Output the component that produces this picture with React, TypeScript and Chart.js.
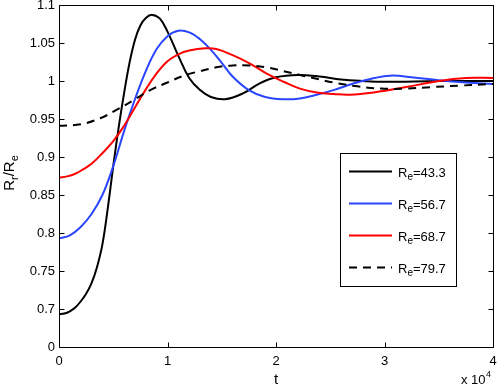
import React, { useEffect, useRef } from "react";
import { Chart, registerables } from "chart.js";

Chart.register(...registerables);

const FONT = '"Liberation Sans", Arial, Helvetica, sans-serif';

// x in units of 10^4
const xTickValues = [0, 1, 2, 3, 4];
const xTickLabels = ["0", "1", "2", "3", "4"];
const yTickValues = [0.65, 0.7, 0.75, 0.8, 0.85, 0.9, 0.95, 1, 1.05, 1.1];
const yTickLabels = ["0", "0.7", "0.75", "0.8", "0.85", "0.9", "0.95", "1", "1.05", "1.1"];

const seriesNames = ["43.3", "56.7", "68.7", "79.7"];
const seriesColors = ["#000000", "#2a45ff", "#ff0000", "#000000"];
const seriesDashed = [false, false, false, true];

const tBlack = [0, 0.05, 0.1, 0.15, 0.2, 0.25, 0.3, 0.35, 0.4, 0.45, 0.5, 0.55, 0.6, 0.65, 0.7, 0.75, 0.8, 0.86, 0.93, 1.0, 1.1, 1.2, 1.3, 1.4, 1.53, 1.7, 1.85, 2.0, 2.2, 2.4, 2.6, 2.8, 3.0, 3.5, 4.0];
const vBlack = [0.693, 0.694, 0.697, 0.702, 0.71, 0.72, 0.734, 0.755, 0.785, 0.833, 0.888, 0.939, 0.984, 1.024, 1.054, 1.073, 1.083, 1.087, 1.082, 1.065, 1.033, 1.004, 0.988, 0.979, 0.976, 0.984, 0.997, 1.005, 1.008, 1.006, 1.002, 1.0, 0.999, 1.0, 1.0];

const tBlue = [0, 0.1, 0.2, 0.3, 0.4, 0.5, 0.6, 0.7, 0.8, 0.9, 1.0, 1.1, 1.2, 1.3, 1.4, 1.5, 1.6, 1.75, 1.9, 2.07, 2.22, 2.375, 2.53, 2.7, 2.85, 3.05, 3.25, 3.5, 3.75, 4.0];
const vBlue = [0.793, 0.797, 0.808, 0.825, 0.85, 0.888, 0.934, 0.976, 1.013, 1.042, 1.059, 1.066, 1.064, 1.055, 1.041, 1.024, 1.006, 0.988, 0.979, 0.976, 0.977, 0.982, 0.988, 0.996, 1.002, 1.007, 1.005, 1.001, 0.998, 0.996];

const tRed = [0, 0.075, 0.15, 0.225, 0.3, 0.4, 0.5, 0.6, 0.7, 0.8, 0.9, 1.0, 1.1, 1.2, 1.35, 1.45, 1.6, 1.76, 1.91, 2.07, 2.22, 2.375, 2.53, 2.68, 2.9, 3.2, 3.5, 3.75, 4.0];
const vRed = [0.873, 0.8745, 0.878, 0.884, 0.891, 0.905, 0.921, 0.941, 0.965, 0.989, 1.01, 1.026, 1.035, 1.04, 1.043, 1.042, 1.034, 1.023, 1.01, 0.999, 0.99, 0.985, 0.983, 0.982, 0.985, 0.992, 1.0, 1.004, 1.004];

const tDash = [0, 0.2, 0.38, 0.53, 0.69, 0.84, 1.0, 1.15, 1.3, 1.45, 1.6, 1.76, 1.91, 2.07, 2.22, 2.4, 2.57, 2.75, 2.97, 3.2, 3.43, 3.7, 4.0];
const vDash = [0.941, 0.943, 0.951, 0.962, 0.975, 0.988, 0.998, 1.007, 1.013, 1.018, 1.0205, 1.0205, 1.018, 1.013, 1.008, 1.002, 0.997, 0.993, 0.99, 0.99, 0.992, 0.994, 0.996];

const seriesT = [tBlack, tBlue, tRed, tDash];
const seriesV = [vBlack, vBlue, vRed, vDash];

const W = 498;
const H = 388;

const decorPlugin = {
  id: "decor",
  afterDraw(chart: any) {
    const ctx = chart.ctx as CanvasRenderingContext2D;
    const { left, right, top, bottom } = chart.chartArea;
    const xs = chart.scales.x;
    const ys = chart.scales.y;
    ctx.save();
    ctx.strokeStyle = "#000";
    ctx.lineWidth = 1;
    const L = Math.round(left) + 0.5;
    const R = Math.round(right) + 0.5;
    const T = Math.round(top) + 0.5;
    const B = Math.round(bottom) + 0.5;
    ctx.beginPath();
    ctx.rect(L, T, R - L, B - T);
    ctx.stroke();
    // inward ticks
    const tl = 5;
    ctx.beginPath();
    xTickValues.forEach((v) => {
      const px = Math.round(xs.getPixelForValue(v)) + 0.5;
      ctx.moveTo(px, B);
      ctx.lineTo(px, B - tl);
      ctx.moveTo(px, T);
      ctx.lineTo(px, T + tl);
    });
    yTickValues.forEach((v) => {
      const py = Math.round(ys.getPixelForValue(v)) + 0.5;
      ctx.moveTo(L, py);
      ctx.lineTo(L + tl, py);
      ctx.moveTo(R, py);
      ctx.lineTo(R - tl, py);
    });
    ctx.stroke();

    // legend
    const bx = 340.5, by = 153.5, bw = 116, bh = 133;
    ctx.fillStyle = "#fff";
    ctx.fillRect(bx, by, bw, bh);
    ctx.strokeStyle = "#000";
    ctx.strokeRect(bx, by, bw, bh);
    const lineYs = [171, 203, 235, 267];
    seriesNames.forEach((name, i) => {
      const ly = lineYs[i] + 0.5;
      ctx.save();
      ctx.strokeStyle = seriesColors[i];
      ctx.lineWidth = 2;
      ctx.setLineDash(seriesDashed[i] ? [8, 6] : []);
      ctx.beginPath();
      ctx.moveTo(349, ly);
      ctx.lineTo(392, ly);
      ctx.stroke();
      ctx.restore();
      ctx.fillStyle = "#000";
      ctx.textBaseline = "alphabetic";
      ctx.textAlign = "left";
      let x = 398;
      const base = lineYs[i] + 5.5;
      ctx.font = `13px ${FONT}`;
      ctx.fillText("R", x, base);
      x += ctx.measureText("R").width;
      ctx.font = `10px ${FONT}`;
      ctx.fillText("e", x, base + 3.5);
      x += ctx.measureText("e").width;
      ctx.font = `13px ${FONT}`;
      ctx.fillText("=" + name, x, base);
    });

    // x axis label
    ctx.fillStyle = "#000";
    ctx.textAlign = "center";
    ctx.textBaseline = "alphabetic";
    ctx.font = `15px ${FONT}`;
    ctx.fillText("t", (left + right) / 2, 384);

    // multiplier
    ctx.textAlign = "left";
    ctx.font = `13px ${FONT}`;
    ctx.fillText("x 10", 461, 384);
    const mw = ctx.measureText("x 10").width;
    ctx.font = `9px ${FONT}`;
    ctx.fillText("4", 461 + mw + 0.5, 377);

    // y axis label with subscripts
    ctx.save();
    ctx.translate(13.5, 173);
    ctx.rotate(-Math.PI / 2);
    const parts: [string, number, number][] = [
      ["R", 15, 0],
      ["r", 11, 4],
      ["/", 15, 0],
      ["R", 15, 0],
      ["e", 11, 4],
    ];
    let total = 0;
    parts.forEach(([s, f]) => {
      ctx.font = `${f}px ${FONT}`;
      total += ctx.measureText(s).width;
    });
    let px = -total / 2;
    ctx.textAlign = "left";
    parts.forEach(([s, f, off]) => {
      ctx.font = `${f}px ${FONT}`;
      ctx.fillText(s, px, off);
      px += ctx.measureText(s).width;
    });
    ctx.restore();

    ctx.restore();
  },
};

export default function App() {
  const canvasRef = useRef<HTMLCanvasElement | null>(null);

  useEffect(() => {
    const canvas = canvasRef.current;
    if (!canvas) return;
    const datasets = seriesNames.map((name, i) => ({
      label: "Re=" + name,
      data: seriesT[i].map((t, j) => ({ x: t, y: seriesV[i][j] })),
      borderColor: seriesColors[i],
      backgroundColor: seriesColors[i],
      borderWidth: 2,
      borderDash: seriesDashed[i] ? [8, 6] : [],
      pointRadius: 0,
      fill: false,
      tension: 0.4,
      order: 4 - i,
    }));

    const chart = new Chart(canvas, {
      type: "line",
      data: { datasets },
      options: {
        responsive: false,
        animation: false,
        devicePixelRatio: 1,
        layout: { padding: { top: 5, right: 5, left: 0, bottom: 0 } },
        plugins: {
          legend: { display: false },
          tooltip: { enabled: false },
        },
        scales: {
          x: {
            type: "linear",
            min: 0,
            max: 4,
            grid: { display: false, drawTicks: false },
            border: { display: false },
            afterBuildTicks: (scale: any) => {
              scale.ticks = xTickValues.map((v) => ({ value: v }));
            },
            afterFit: (scale: any) => {
              scale.height = 41;
              scale.paddingLeft = 0;
              scale.paddingRight = 0;
            },
            ticks: {
              autoSkip: false,
              maxRotation: 0,
              padding: 7,
              color: "#000",
              font: { family: FONT, size: 13 },
              callback: (_v: any, i: number) => xTickLabels[i],
            },
          },
          y: {
            type: "linear",
            min: 0.65,
            max: 1.1,
            grid: { display: false, drawTicks: false },
            border: { display: false },
            afterBuildTicks: (scale: any) => {
              scale.ticks = yTickValues.map((v) => ({ value: v }));
            },
            afterFit: (scale: any) => {
              scale.width = 59;
              scale.paddingTop = 0;
              scale.paddingBottom = 0;
            },
            ticks: {
              autoSkip: false,
              padding: 4,
              color: "#000",
              font: { family: FONT, size: 13 },
              callback: (_v: any, i: number) => yTickLabels[i],
            },
          },
        },
      },
      plugins: [decorPlugin],
    });
    return () => chart.destroy();
  }, []);

  return (
    <div style={{ position: "absolute", left: 0, top: 0, width: W, height: H, background: "#fff" }}>
      <canvas ref={canvasRef} width={W} height={H} style={{ width: W, height: H, display: "block" }} />
    </div>
  );
}
